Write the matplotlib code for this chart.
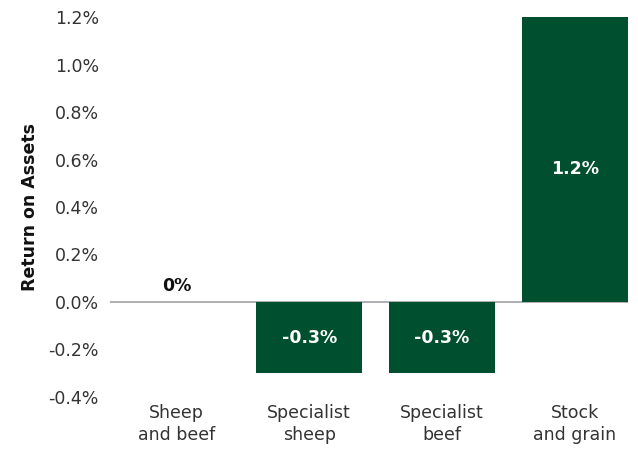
import matplotlib.pyplot as plt
from matplotlib.ticker import FuncFormatter

plt.rcParams.update({
    "font.family": ["DejaVu Sans"],
    "font.size": 12.5,
})

# Return on assets by farm type (%)
categories = ["Sheep\nand beef", "Specialist\nsheep", "Specialist\nbeef", "Stock\nand grain"]
roa = [0.0, -0.3, -0.3, 1.2]
value_labels = ["0%", "-0.3%", "-0.3%", "1.2%"]

green = "#00502f"

fig = plt.figure(figsize=(6.38, 4.5), dpi=100)
ax = fig.add_axes([0.1724, 0.1178, 0.8119, 0.8444])

x = range(len(categories))
bars = ax.bar(x, roa, width=0.8, color=green, zorder=2)

# zero baseline
ax.axhline(0, color="#a0a0a8", linewidth=1.2, zorder=1)

for bar, val, lab in zip(bars, roa, value_labels):
    cx = bar.get_x() + bar.get_width() / 2
    if val == 0:
        ax.text(cx, 0.03, lab, ha="center", va="bottom", color="#111111",
                fontsize=12.5, fontweight="semibold")
    else:
        ypos = val / 2 - 0.04 if val > 0.5 else val / 2
        ax.text(cx, ypos, lab, ha="center", va="center",
                color="white", fontsize=12.5, fontweight="semibold")

ax.set_xlim(-0.5, 3.4)
ax.set_ylim(-0.4, 1.2)
ax.set_yticks([-0.4, -0.2, 0.0, 0.2, 0.4, 0.6, 0.8, 1.0, 1.2])
ax.yaxis.set_major_formatter(FuncFormatter(lambda v, p: f"{v:.1f}%"))
ax.set_xticks(list(x))
ax.set_xticklabels(categories, linespacing=1.3)

ax.tick_params(axis="both", length=0, colors="#333333", labelsize=12.5)
ax.tick_params(axis="y", pad=8)
ax.tick_params(axis="x", pad=5)
for s in ax.spines.values():
    s.set_visible(False)

ax.set_ylabel("Return on Assets", fontsize=12.5, fontweight="bold", color="#111111", labelpad=7)

fig.savefig("out.png", dpi=100)
